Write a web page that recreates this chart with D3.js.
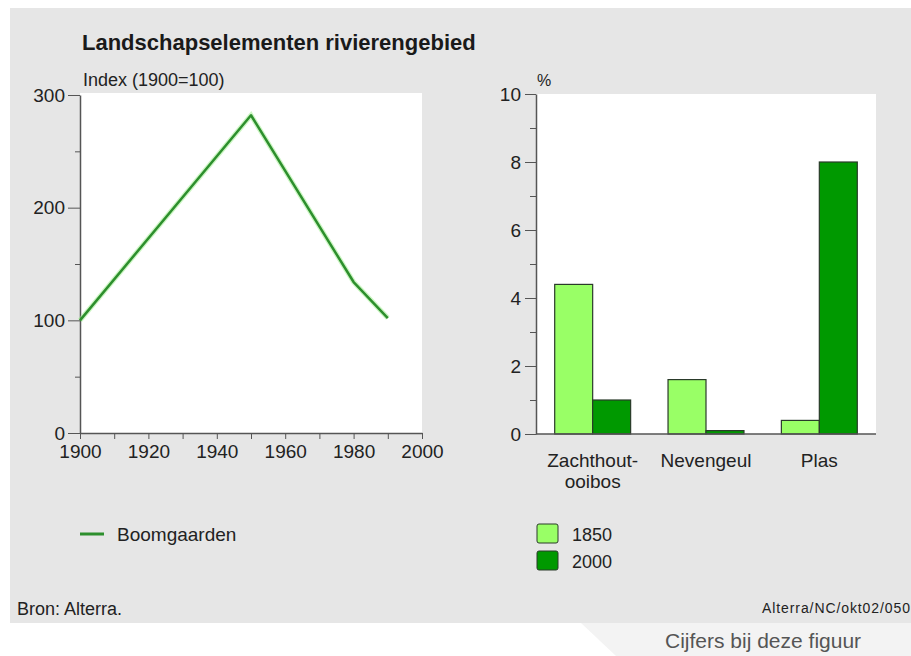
<!DOCTYPE html>
<html>
<head>
<meta charset="utf-8">
<script src="https://cdn.jsdelivr.net/npm/d3@7"></script>
<style>
  body { margin: 0; background: #fff; }
  svg { display: block; font-family: "Liberation Sans", Arial, sans-serif; }
  .axis path, .axis line { stroke: #555; }
  .axis text { fill: #222; font-size: 19px; }
</style>
</head>
<body>
<div id="chart"></div>
<script>
// line chart: Boomgaarden, index 1900=100
var years = [1900, 1950, 1980, 1990];
var boomgaarden = [100, 282, 134, 102];

// bar chart: share in %
var categories = ["Zachthout-ooibos", "Nevengeul", "Plas"];
var categoryLines = [["Zachthout-", "ooibos"], ["Nevengeul"], ["Plas"]];
var seriesNames = ["1850", "2000"];
var values1850 = [4.4, 1.6, 0.4];
var values2000 = [1.0, 0.1, 8.0];
var barColors = ["#99ff66", "#009900"];

var W = 911, H = 656;

var svg = d3.select("#chart").append("svg")
    .attr("width", W)
    .attr("height", H);

// grey panel + link tab underneath
svg.append("rect")
    .attr("x", 10).attr("y", 8)
    .attr("width", W - 10).attr("height", 615)
    .attr("fill", "#e6e6e6");

svg.append("path")
    .attr("d", "M581,623 L911,623 L911,656 L616,656 Z")
    .attr("fill", "#f3f3f3");

svg.append("text")
    .attr("x", 665).attr("y", 648)
    .attr("fill", "#555")
    .style("font-size", "21px")
    .text("Cijfers bij deze figuur");

// title
svg.append("text")
    .attr("x", 82).attr("y", 50)
    .attr("fill", "#1a1a1a")
    .style("font-size", "22px")
    .style("font-weight", "bold")
    .text("Landschapselementen rivierengebied");

// ****************** left: line chart ******************
var x = d3.scaleLinear().domain([1900, 2000]).range([80, 422]);
var y = d3.scaleLinear().domain([0, 300]).range([433, 95]);

svg.append("rect")
    .attr("x", x(1900)).attr("y", 93)
    .attr("width", x(2000) - x(1900)).attr("height", y(0) - 93)
    .attr("fill", "#fff");

svg.append("text")
    .attr("x", 83).attr("y", 86)
    .attr("fill", "#222")
    .style("font-size", "18px")
    .text("Index (1900=100)");

// minor ticks first, majors on top
svg.append("g")
    .attr("class", "axis")
    .attr("transform", "translate(80,0)")
    .call(d3.axisLeft(y).tickValues([50, 150, 250]).tickSize(5).tickFormat(""))
    .select(".domain").remove();

svg.append("g")
    .attr("class", "axis")
    .attr("transform", "translate(80,0)")
    .call(d3.axisLeft(y).tickValues([0, 100, 200, 300]).tickSize(12).tickSizeOuter(0).tickPadding(3))
    .select(".domain").attr("stroke-width", 1.5);

svg.append("g")
    .attr("class", "axis")
    .attr("transform", "translate(0,433)")
    .call(d3.axisBottom(x).tickValues(d3.range(1910, 2000, 20)).tickSize(6).tickFormat(""))
    .select(".domain").remove();

svg.append("g")
    .attr("class", "axis")
    .attr("transform", "translate(0,433)")
    .call(d3.axisBottom(x).tickValues(d3.range(1900, 2001, 20)).tickSize(6).tickSizeOuter(0).tickPadding(6).tickFormat(d3.format("d")))
    .select(".domain").attr("stroke-width", 1.5);

var line = d3.line()
    .x(function(d, i) { return x(years[i]); })
    .y(function(d) { return y(d); });

// soft halo like the original gif
svg.append("path")
    .datum(boomgaarden)
    .attr("fill", "none")
    .attr("stroke", "#99ee88")
    .attr("stroke-opacity", 0.5)
    .attr("stroke-width", 5)
    .attr("d", line);

svg.append("path")
    .datum(boomgaarden)
    .attr("fill", "none")
    .attr("stroke", "#2d8f2d")
    .attr("stroke-width", 2.5)
    .attr("stroke-linejoin", "round")
    .attr("d", line);

// legend left
svg.append("line")
    .attr("x1", 80).attr("x2", 104)
    .attr("y1", 534).attr("y2", 534)
    .attr("stroke", "#2d8f2d")
    .attr("stroke-width", 3);

svg.append("text")
    .attr("x", 117).attr("y", 541)
    .attr("fill", "#222")
    .style("font-size", "19px")
    .text("Boomgaarden");

// ****************** right: bar chart ******************
var x0 = d3.scaleBand().domain(categories).range([536, 876])
    .paddingInner(0.33).paddingOuter(0.165);
var x1 = d3.scaleBand().domain(seriesNames).range([0, x0.bandwidth()]);
var y2 = d3.scaleLinear().domain([0, 10]).range([434, 94]);

svg.append("rect")
    .attr("x", 536).attr("y", y2(10))
    .attr("width", 340).attr("height", y2(0) - y2(10))
    .attr("fill", "#fff");

svg.append("text")
    .attr("x", 537).attr("y", 86)
    .attr("fill", "#222")
    .style("font-size", "16px")
    .text("%");

var rows = categories.map(function(c, i) {
  return { cat: c, vals: [values1850[i], values2000[i]] };
});

var groups = svg.selectAll("g.group")
    .data(rows)
  .enter().append("g")
    .attr("class", "group")
    .attr("transform", function(d) { return "translate(" + x0(d.cat) + ",0)"; });

groups.selectAll("rect")
    .data(function(d) { return d.vals.map(function(v, j) { return { s: seriesNames[j], v: v, j: j }; }); })
  .enter().append("rect")
    .attr("x", function(d) { return x1(d.s); })
    .attr("y", function(d) { return y2(d.v); })
    .attr("width", x1.bandwidth())
    .attr("height", function(d) { return y2(0) - y2(d.v); })
    .attr("fill", function(d) { return barColors[d.j]; })
    .attr("stroke", "#2a3a2a")
    .attr("stroke-width", 1.2);

svg.append("g")
    .attr("class", "axis")
    .attr("transform", "translate(536,0)")
    .call(d3.axisLeft(y2).tickValues([1, 3, 5, 7, 9]).tickSize(6).tickFormat(""))
    .select(".domain").remove();

svg.append("g")
    .attr("class", "axis")
    .attr("transform", "translate(536,0)")
    .call(d3.axisLeft(y2).tickValues([0, 2, 4, 6, 8, 10]).tickSize(11).tickSizeOuter(0).tickPadding(4))
    .select(".domain").attr("stroke-width", 1.5);

svg.append("line")
    .attr("x1", 536).attr("x2", 876)
    .attr("y1", y2(0)).attr("y2", y2(0))
    .attr("stroke", "#555")
    .attr("stroke-width", 1.5);

// category labels, wrapped like the original
var catLabels = svg.selectAll("text.cat")
    .data(categories)
  .enter().append("text")
    .attr("class", "cat")
    .attr("text-anchor", "middle")
    .attr("fill", "#222")
    .style("font-size", "19px")
    .attr("y", 467);

catLabels.each(function(d, i) {
  var t = d3.select(this);
  var cx = x0(d) + x0.bandwidth() / 2;
  categoryLines[i].forEach(function(s, k) {
    t.append("tspan").attr("x", cx).attr("dy", k === 0 ? 0 : 21).text(s);
  });
});

// legend right
var leg = svg.selectAll("g.leg")
    .data(seriesNames)
  .enter().append("g")
    .attr("class", "leg")
    .attr("transform", function(d, i) { return "translate(536," + (524 + i * 27) + ")"; });

leg.append("rect")
    .attr("x", 1).attr("y", 0)
    .attr("width", 21).attr("height", 19)
    .attr("rx", 2)
    .attr("fill", function(d, i) { return barColors[i]; })
    .attr("stroke", "#2a3a2a")
    .attr("stroke-width", 1);

leg.append("text")
    .attr("x", 36).attr("y", 17)
    .attr("fill", "#222")
    .style("font-size", "18px")
    .text(function(d) { return d; });

// footer
svg.append("text")
    .attr("x", 17).attr("y", 615)
    .attr("fill", "#222")
    .style("font-size", "18px")
    .text("Bron: Alterra.");

svg.append("text")
    .attr("x", 910).attr("y", 613)
    .attr("text-anchor", "end")
    .attr("fill", "#222")
    .style("font-size", "14px")
    .attr("textLength", 148)
    .text("Alterra/NC/okt02/050");
</script>
</body>
</html>
